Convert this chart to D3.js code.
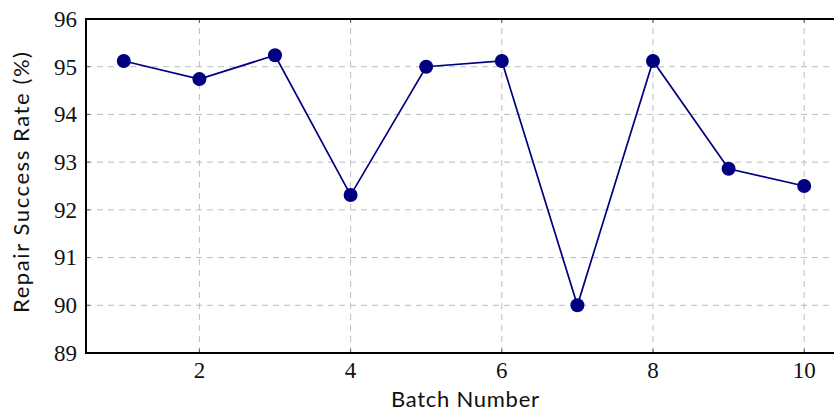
<!DOCTYPE html>
<html>
<head>
<meta charset="utf-8">
<script src="https://cdn.jsdelivr.net/npm/d3@7"></script>
<style>
  html, body { margin: 0; padding: 0; background: #fff; }
  svg { display: block; }
  .tick-label { font-family: "Liberation Serif", "DejaVu Serif", serif; font-size: 23px; fill: #111; }
  .axis-label { font-family: "Lato", "DejaVu Sans", sans-serif; font-size: 22px; fill: #111; }
</style>
</head>
<body>
<div id="chart"></div>
<script>
// data
var batches = [1, 2, 3, 4, 5, 6, 7, 8, 9, 10];
var successRate = [95.12, 94.74, 95.24, 92.31, 95.0, 95.12, 90.0, 95.12, 92.86, 92.5];
var xTicks = [2, 4, 6, 8, 10];
var yTicks = [89, 90, 91, 92, 93, 94, 95, 96];

var width = 834, height = 413;
var m = { top: 19, left: 86, bottom: 60 };
var plotRight = 842; // pgfplots enlarged limits run past the window edge

var svg = d3.select('#chart').append('svg')
  .attr('width', width)
  .attr('height', height);

var x = d3.scaleLinear().domain([0.5, 10.5]).range([m.left, plotRight]);
var y = d3.scaleLinear().domain([89, 96]).range([height - m.bottom, m.top]);

// grid
var grid = svg.append('g');
grid.selectAll('.gx')
  .data(xTicks)
  .enter().append('line')
  .attr('x1', function(d) { return x(d); })
  .attr('x2', function(d) { return x(d); })
  .attr('y1', y(89))
  .attr('y2', y(96))
  .attr('stroke', '#bdbdbd')
  .attr('stroke-width', 1)
  .attr('stroke-dasharray', '6,5');
grid.selectAll('.gy')
  .data(yTicks.slice(1, -1))
  .enter().append('line')
  .attr('x1', x(0.5))
  .attr('x2', x(10.5))
  .attr('y1', function(d) { return y(d); })
  .attr('y2', function(d) { return y(d); })
  .attr('stroke', '#bdbdbd')
  .attr('stroke-width', 1)
  .attr('stroke-dasharray', '6,5');

// small inner tick marks
var ticks = svg.append('g').attr('stroke', '#555').attr('stroke-width', 1);
xTicks.forEach(function(d) {
  ticks.append('line').attr('x1', x(d)).attr('x2', x(d)).attr('y1', y(89)).attr('y2', y(89) - 4);
  ticks.append('line').attr('x1', x(d)).attr('x2', x(d)).attr('y1', y(96)).attr('y2', y(96) + 4);
});
yTicks.forEach(function(d) {
  ticks.append('line').attr('x1', x(0.5)).attr('x2', x(0.5) + 4).attr('y1', y(d)).attr('y2', y(d));
  ticks.append('line').attr('x1', x(10.5)).attr('x2', x(10.5) - 4).attr('y1', y(d)).attr('y2', y(d));
});

// frame: left, top, bottom
svg.append('path')
  .attr('d', 'M' + x(10.5) + ',' + y(96) + 'H' + x(0.5) + 'V' + y(89) + 'H' + x(10.5))
  .attr('fill', 'none')
  .attr('stroke', '#000')
  .attr('stroke-width', 2);

// tick labels
svg.selectAll('.xl')
  .data(xTicks)
  .enter().append('text')
  .attr('class', 'tick-label')
  .attr('x', function(d) { return x(d); })
  .attr('y', y(89) + 25)
  .attr('text-anchor', 'middle')
  .text(function(d) { return d; });
svg.selectAll('.yl')
  .data(yTicks)
  .enter().append('text')
  .attr('class', 'tick-label')
  .attr('x', x(0.5) - 9)
  .attr('y', function(d) { return y(d); })
  .attr('dy', '0.34em')
  .attr('text-anchor', 'end')
  .text(function(d) { return d; });

// series
var pts = batches.map(function(b, i) { return [b, successRate[i]]; });
svg.append('path')
  .datum(pts)
  .attr('fill', 'none')
  .attr('stroke', '#000080')
  .attr('stroke-width', 1.7)
  .attr('d', d3.line().x(function(d) { return x(d[0]); }).y(function(d) { return y(d[1]); }));
svg.selectAll('.dot')
  .data(pts)
  .enter().append('circle')
  .attr('cx', function(d) { return x(d[0]); })
  .attr('cy', function(d) { return y(d[1]); })
  .attr('r', 7)
  .attr('fill', '#000080');

// axis labels
svg.append('text')
  .attr('class', 'axis-label')
  .attr('x', 465)
  .attr('y', 407)
  .attr('text-anchor', 'middle')
  .attr('textLength', 148)
  .attr('lengthAdjust', 'spacing')
  .text('Batch Number');
svg.append('text')
  .attr('class', 'axis-label')
  .attr('transform', 'translate(29,182.5) rotate(-90)')
  .attr('text-anchor', 'middle')
  .attr('textLength', 261)
  .attr('lengthAdjust', 'spacing')
  .text('Repair Success Rate (%)');
</script>
</body>
</html>
